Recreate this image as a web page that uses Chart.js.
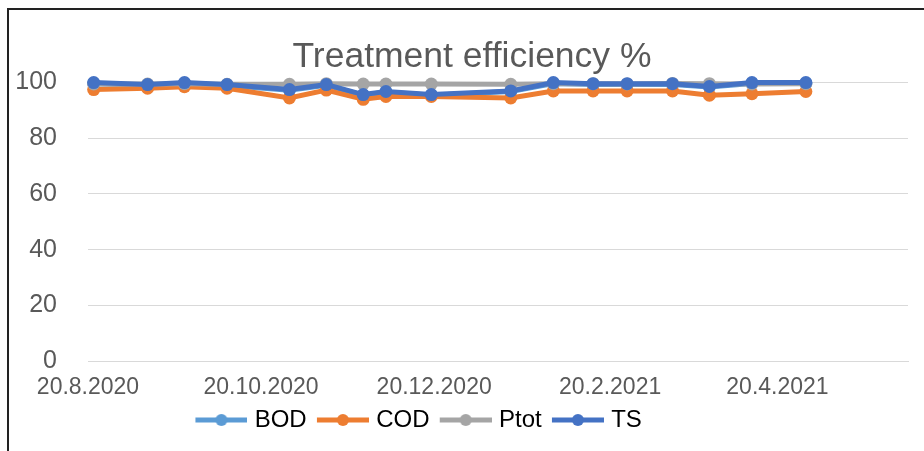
<!DOCTYPE html>
<html>
<head>
<meta charset="utf-8">
<script src="https://cdn.jsdelivr.net/npm/chart.js@4.4.1/dist/chart.umd.min.js"></script>
<style>
  html, body { margin: 0; padding: 0; background: #fff; }
  #wrap { position: relative; width: 924px; height: 451px; }
  #frame { position: absolute; left: 7px; top: 8px; right: 0; bottom: 0; border-top: 2px solid #222; border-left: 2px solid #222; pointer-events: none; }
</style>
</head>
<body>
<div id="wrap">
  <canvas id="chart" width="924" height="451"></canvas>
  <div id="frame"></div>
</div>
<script>
const sampleDates = ["2020-08-22", "2020-09-10", "2020-09-23", "2020-10-08", "2020-10-30", "2020-11-12",
  "2020-11-25", "2020-12-03", "2020-12-19", "2021-01-16", "2021-01-31", "2021-02-14", "2021-02-26",
  "2021-03-14", "2021-03-27", "2021-04-11", "2021-04-30"];
const bod  = [99.7, 99.0, 99.7, 99.0, 97.3, 99.0, 95.5, 96.6, 95.5, 96.8, 99.7, 99.3, 99.3, 99.3, 98.4, 99.7, 99.7];
const cod  = [97.5, 98.0, 98.5, 98.0, 94.5, 97.3, 94.0, 95.0, 95.0, 94.5, 97.0, 97.0, 97.0, 97.0, 95.5, 96.0, 96.8];
const ptot = [99.5, 99.5, 99.6, 99.4, 99.4, 99.6, 99.5, 99.5, 99.5, 99.4, 99.6, 99.6, 99.5, 99.7, 99.6, 99.5, 99.6];
const ts   = [100, 99.3, 100, 99.3, 97.5, 99.3, 95.7, 96.8, 95.7, 97.0, 100, 99.6, 99.6, 99.6, 98.6, 100, 100];

const tickDates = ["2020-08-20", "2020-10-20", "2020-12-20", "2021-02-20", "2021-04-20"];
const tickLabels = ["20.8.2020", "20.10.2020", "20.12.2020", "20.2.2021", "20.4.2021"];
const yTicks = [0, 20, 40, 60, 80, 100];

const seriesNames = ["BOD", "COD", "Ptot", "TS"];
const seriesColors = ["#5B9BD5", "#ED7D31", "#A5A5A5", "#4472C4"];

function toDay(s) {
  const p = s.split("-").map(Number);
  return Date.UTC(p[0], p[1] - 1, p[2]) / 86400000;
}

function points(values) {
  return values.map((v, i) => ({ x: toDay(sampleDates[i]), y: v }));
}

// line-with-dot picture for the legend (transparent margin on the left so the
// chart.js box lands where excel puts it)
function legendIcon(color) {
  const c = document.createElement("canvas");
  c.width = 64; c.height = 14;
  const g = c.getContext("2d");
  g.strokeStyle = color;
  g.lineWidth = 5;
  g.beginPath(); g.moveTo(12, 7); g.lineTo(64, 7); g.stroke();
  g.fillStyle = color;
  g.beginPath(); g.arc(38, 7, 6, 0, Math.PI * 2); g.fill();
  return c;
}

// excel puts the legend a bit left of the middle and the title a bit right
const nudgeBoxes = {
  id: "nudgeBoxes",
  afterLayout(chart) {
    if (chart.legend) {
      chart.legend.left -= 44;
      chart.legend.right -= 34;
    }
    if (chart.titleBlock) {
      chart.titleBlock.left += 36;
    }
  }
};

const font = "'Liberation Sans', Arial, sans-serif";
const allSeries = [bod, cod, ptot, ts];

new Chart("chart", {
  type: "line",
  data: {
    datasets: allSeries.map((vals, i) => ({
      label: seriesNames[i],
      data: points(vals),
      borderColor: seriesColors[i],
      backgroundColor: seriesColors[i],
      borderWidth: 5,
      pointRadius: 6.5,
      pointHoverRadius: 6.5,
      pointBorderWidth: 0,
      tension: 0,
      clip: false,
      order: 3 - i
    }))
  },
  plugins: [nudgeBoxes],
  options: {
    responsive: false,
    animation: false,
    layout: { padding: { left: 0, right: 16, top: 0, bottom: 9 } },
    plugins: {
      tooltip: { enabled: false },
      title: {
        display: true,
        text: "Treatment efficiency %",
        color: "#595959",
        font: { family: font, size: 35.5, weight: "normal" },
        padding: { top: 36, bottom: 4 }
      },
      legend: {
        position: "bottom",
        labels: {
          usePointStyle: true,
          pointStyleWidth: 54.5,
          color: "#595959",
          font: { family: font, size: 24 },
          padding: 3,
          generateLabels: (chart) => seriesNames.map((n, i) => ({
            text: n,
            pointStyle: legendIcon(seriesColors[i]),
            fillStyle: seriesColors[i],
            strokeStyle: seriesColors[i],
            lineWidth: 0,
            hidden: false,
            datasetIndex: i
          }))
        }
      }
    },
    scales: {
      x: {
        type: "linear",
        min: toDay("2020-08-20"),
        max: toDay("2021-06-05"),
        afterBuildTicks: (axis) => {
          axis.ticks = tickDates.map(d => ({ value: toDay(d) }));
        },
        afterFit: (axis) => {
          axis.paddingLeft = 0;
          axis.paddingRight = 0;
          axis.height = 44;
        },
        ticks: {
          autoSkip: false,
          maxRotation: 0,
          color: "#595959",
          font: { family: font, size: 23, lineHeight: 1.0 },
          padding: 15,
          callback: (value, index) => tickLabels[index]
        },
        grid: { display: false, drawTicks: false },
        border: { display: true, color: "#D9D9D9", width: 1 }
      },
      y: {
        min: 0,
        max: 100,
        afterBuildTicks: (axis) => {
          axis.ticks = yTicks.map(v => ({ value: v }));
        },
        afterFit: (axis) => {
          axis.width = 88;
          axis.paddingTop = 0;
          axis.paddingBottom = 0;
        },
        ticks: {
          color: "#595959",
          font: { family: font, size: 25 },
          padding: 31
        },
        grid: { color: "#D9D9D9", lineWidth: 1, drawTicks: false },
        border: { display: false }
      }
    }
  }
});
</script>
</body>
</html>
